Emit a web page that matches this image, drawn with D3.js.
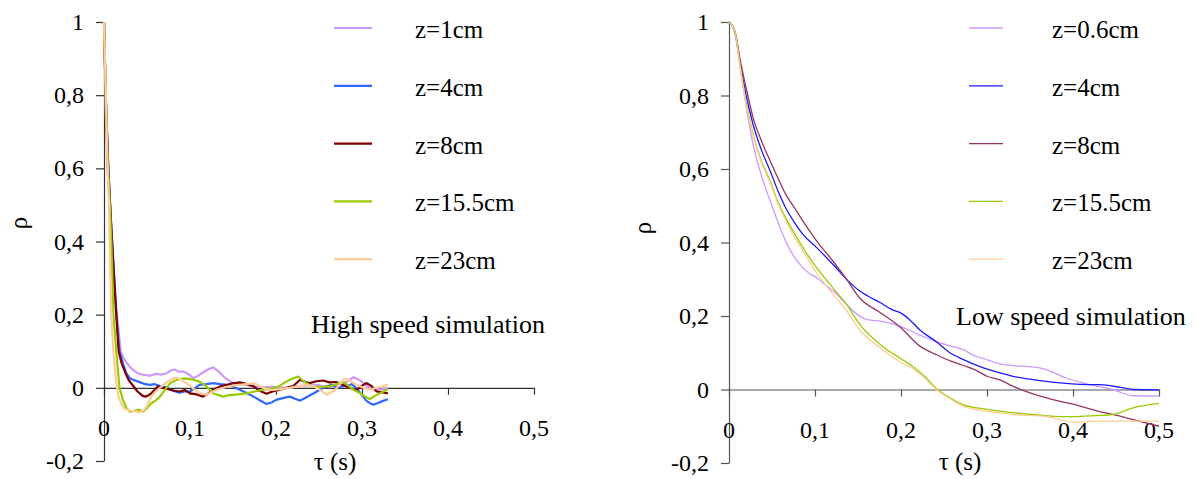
<!DOCTYPE html>
<html>
<head>
<meta charset="utf-8">
<title>Correlation chart</title>
<script src="https://d3js.org/d3.v7.min.js"></script>
</head>
<body style="margin:0">
<script>
// ---- data ----
var xTicks = [0, 0.1, 0.2, 0.3, 0.4, 0.5];
var yTicks = [-0.2, 0, 0.2, 0.4, 0.6, 0.8, 1];

var highLabels = ["z=1cm", "z=4cm", "z=8cm", "z=15.5cm", "z=23cm"];
var lowLabels = ["z=0.6cm", "z=4cm", "z=8cm", "z=15.5cm", "z=23cm"];

// high speed simulation, [tau, rho]
var highZ1 = [[0,1],[0.002,0.76],[0.004,0.6],[0.007,0.47],[0.01,0.36],[0.013,0.25],[0.015,0.2],[0.0195,0.1],[0.023,0.08],[0.026,0.07],[0.031,0.055],[0.036,0.045],[0.039,0.04],[0.045,0.036],[0.053,0.033],[0.061,0.038],[0.067,0.036],[0.073,0.04],[0.078,0.048],[0.082,0.05],[0.087,0.044],[0.092,0.045],[0.098,0.038],[0.104,0.026],[0.11,0.034],[0.115,0.042],[0.121,0.05],[0.127,0.056],[0.133,0.045],[0.139,0.031],[0.145,0.02],[0.15,0.013],[0.158,0.01],[0.166,0.008],[0.175,0.004],[0.185,0.002],[0.2,0.002],[0.212,0],[0.224,0.004],[0.235,0.006],[0.247,0.008],[0.255,0.004],[0.263,0.002],[0.27,0.006],[0.278,0.008],[0.284,0.02],[0.29,0.029],[0.298,0.02],[0.304,0.008],[0.309,-0.001],[0.315,-0.004],[0.321,-0.005],[0.326,-0.003],[0.33,-0.001]];
var highZ4 = [[0,1],[0.002,0.8],[0.005,0.6],[0.008,0.46],[0.011,0.34],[0.0143,0.2],[0.018,0.1],[0.022,0.067],[0.026,0.04],[0.03,0.026],[0.034,0.022],[0.042,0.015],[0.048,0.01],[0.053,0.008],[0.059,0.01],[0.065,0.005],[0.071,0.003],[0.077,-0.005],[0.083,-0.01],[0.088,-0.013],[0.094,-0.01],[0.1,-0.01],[0.105,-0.002],[0.111,0.008],[0.119,0.01],[0.127,0.013],[0.135,0.01],[0.143,0.008],[0.15,0.003],[0.158,-0.005],[0.166,-0.014],[0.174,-0.024],[0.181,-0.034],[0.189,-0.044],[0.195,-0.04],[0.2,-0.033],[0.208,-0.028],[0.216,-0.024],[0.222,-0.03],[0.228,-0.035],[0.236,-0.025],[0.244,-0.015],[0.252,-0.004],[0.259,0.004],[0.265,0.008],[0.27,0.002],[0.276,0.003],[0.282,0.005],[0.288,0.01],[0.294,-0.002],[0.3,-0.02],[0.305,-0.035],[0.31,-0.043],[0.313,-0.046],[0.318,-0.042],[0.323,-0.037],[0.33,-0.031]];
var highZ8 = [[0,1],[0.002,0.8],[0.005,0.6],[0.008,0.46],[0.011,0.33],[0.0143,0.2],[0.017,0.1],[0.0205,0.067],[0.025,0.04],[0.029,0.02],[0.034,0.005],[0.039,-0.01],[0.045,-0.022],[0.048,-0.024],[0.052,-0.02],[0.055,-0.015],[0.059,-0.005],[0.063,0.004],[0.069,0],[0.077,-0.005],[0.082,-0.008],[0.088,-0.01],[0.094,-0.006],[0.1,-0.015],[0.108,-0.018],[0.115,-0.024],[0.121,-0.016],[0.127,-0.005],[0.135,0.004],[0.143,0.008],[0.15,0.012],[0.158,0.015],[0.166,0.01],[0.174,0.004],[0.181,-0.008],[0.189,-0.016],[0.196,-0.01],[0.204,-0.005],[0.212,0],[0.22,0.005],[0.228,0.022],[0.234,0.016],[0.239,0.013],[0.247,0.018],[0.255,0.02],[0.262,0.015],[0.27,0.016],[0.276,0.01],[0.282,0.004],[0.288,-0.002],[0.294,-0.006],[0.3,0.006],[0.305,0.013],[0.311,0.005],[0.317,-0.01],[0.323,-0.012],[0.33,-0.015]];
var highZ15 = [[0,1],[0.002,0.8],[0.004,0.62],[0.0066,0.51],[0.0085,0.4],[0.011,0.2],[0.0143,0.1],[0.018,0],[0.022,-0.033],[0.026,-0.055],[0.03,-0.065],[0.035,-0.063],[0.04,-0.06],[0.046,-0.065],[0.05,-0.055],[0.055,-0.042],[0.06,-0.035],[0.065,-0.024],[0.071,-0.005],[0.077,0.013],[0.083,0.02],[0.088,0.024],[0.094,0.026],[0.1,0.024],[0.104,0.022],[0.11,0.018],[0.117,0.008],[0.122,-0.003],[0.127,-0.015],[0.133,-0.02],[0.139,-0.024],[0.145,-0.02],[0.15,-0.019],[0.158,-0.017],[0.166,-0.015],[0.175,-0.01],[0.185,-0.005],[0.193,-0.003],[0.2,0],[0.206,0.008],[0.212,0.017],[0.219,0.025],[0.226,0.031],[0.231,0.02],[0.236,0.012],[0.242,0.004],[0.247,0.002],[0.255,0.003],[0.263,0.004],[0.27,0.01],[0.278,0.017],[0.284,0.006],[0.29,-0.005],[0.298,-0.015],[0.304,-0.024],[0.309,-0.031],[0.315,-0.022],[0.321,-0.015],[0.326,-0.008],[0.33,-0.004]];
var highZ23 = [[0,1],[0.002,0.82],[0.004,0.62],[0.0058,0.51],[0.0065,0.4],[0.0085,0.2],[0.011,0.1],[0.0143,0.01],[0.017,-0.025],[0.0205,-0.045],[0.024,-0.058],[0.03,-0.062],[0.036,-0.064],[0.042,-0.067],[0.046,-0.062],[0.05,-0.05],[0.055,-0.024],[0.06,-0.01],[0.065,0],[0.071,0.012],[0.077,0.022],[0.084,0.028],[0.09,0.022],[0.096,0.013],[0.102,0.002],[0.108,-0.01],[0.114,-0.016],[0.119,-0.019],[0.125,-0.012],[0.131,-0.005],[0.137,-0.001],[0.143,0.003],[0.15,0.006],[0.158,0.008],[0.166,0.01],[0.174,0.013],[0.181,0.005],[0.189,-0.004],[0.195,-0.006],[0.2,-0.005],[0.208,-0.002],[0.216,0],[0.226,0.004],[0.236,0.008],[0.244,0.004],[0.251,-0.005],[0.259,-0.019],[0.264,-0.012],[0.269,-0.005],[0.275,0.012],[0.28,0.026],[0.287,0.018],[0.294,0.008],[0.302,0],[0.309,-0.005],[0.317,0],[0.325,0.005],[0.33,0.008]];

// low speed simulation, [tau, rho]
var lowZ06 = [[0,1],[0.004,0.99],[0.008,0.955],[0.0128,0.88],[0.02,0.77],[0.028,0.667],[0.038,0.58],[0.048,0.512],[0.057,0.455],[0.066,0.403],[0.076,0.36],[0.086,0.331],[0.094,0.315],[0.102,0.304],[0.111,0.287],[0.121,0.268],[0.137,0.231],[0.152,0.199],[0.161,0.19],[0.176,0.186],[0.199,0.172],[0.222,0.148],[0.241,0.13],[0.258,0.118],[0.272,0.109],[0.285,0.092],[0.299,0.082],[0.315,0.07],[0.33,0.065],[0.349,0.062],[0.368,0.055],[0.391,0.032],[0.408,0.02],[0.422,0.012],[0.446,0],[0.47,-0.017],[0.5,-0.018]];
var lowZ4 = [[0,1],[0.004,0.99],[0.008,0.96],[0.0128,0.89],[0.02,0.8],[0.028,0.721],[0.038,0.65],[0.048,0.594],[0.057,0.54],[0.066,0.494],[0.076,0.455],[0.086,0.422],[0.102,0.386],[0.121,0.34],[0.137,0.299],[0.152,0.268],[0.161,0.255],[0.176,0.236],[0.189,0.218],[0.199,0.209],[0.21,0.19],[0.222,0.162],[0.241,0.13],[0.257,0.1],[0.272,0.082],[0.292,0.062],[0.315,0.045],[0.33,0.036],[0.362,0.024],[0.385,0.018],[0.408,0.014],[0.431,0.013],[0.455,0.006],[0.47,0],[0.5,-0.001]];
var lowZ8 = [[0,1],[0.004,0.99],[0.008,0.965],[0.0128,0.9],[0.02,0.82],[0.028,0.74],[0.038,0.675],[0.048,0.621],[0.057,0.575],[0.066,0.531],[0.076,0.495],[0.086,0.458],[0.102,0.404],[0.121,0.349],[0.137,0.299],[0.152,0.249],[0.176,0.209],[0.199,0.17],[0.222,0.118],[0.241,0.095],[0.258,0.077],[0.272,0.066],[0.285,0.055],[0.3,0.036],[0.315,0.026],[0.33,0.009],[0.345,-0.005],[0.368,-0.022],[0.385,-0.032],[0.408,-0.045],[0.431,-0.06],[0.446,-0.068],[0.47,-0.082],[0.5,-0.1]];
var lowZ15 = [[0,1],[0.004,0.99],[0.008,0.96],[0.0128,0.885],[0.02,0.78],[0.028,0.694],[0.038,0.62],[0.048,0.567],[0.057,0.51],[0.066,0.467],[0.076,0.425],[0.086,0.386],[0.102,0.331],[0.121,0.276],[0.137,0.231],[0.152,0.177],[0.176,0.122],[0.199,0.085],[0.214,0.062],[0.228,0.035],[0.241,0.003],[0.255,-0.02],[0.272,-0.041],[0.3,-0.054],[0.33,-0.063],[0.368,-0.071],[0.395,-0.074],[0.426,-0.071],[0.446,-0.068],[0.47,-0.05],[0.5,-0.038]];
var lowZ23 = [[0,1],[0.004,0.99],[0.008,0.96],[0.0128,0.88],[0.02,0.775],[0.028,0.69],[0.038,0.615],[0.048,0.562],[0.057,0.505],[0.066,0.46],[0.076,0.415],[0.086,0.377],[0.102,0.317],[0.121,0.259],[0.137,0.213],[0.152,0.162],[0.176,0.113],[0.199,0.075],[0.214,0.056],[0.228,0.03],[0.241,0],[0.255,-0.022],[0.272,-0.045],[0.3,-0.059],[0.33,-0.068],[0.368,-0.073],[0.4,-0.089],[0.43,-0.086],[0.5,-0.086]];

var highColors = ["#cc99ff", "#3366ff", "#800000", "#99cc00", "#ffcc99"];
var lowColors = ["#cc99ff", "#1a1aff", "#993366", "#99cc00", "#ffcc99"];

var FONT = "'Liberation Serif', 'Times New Roman', serif";
var K = 0.8; // text is set at size/K and drawn scaled by K
var width = 1196, height = 479;
var svg = d3.select("body").append("svg")
  .attr("width", width)
  .attr("height", height);

// comma decimals and a plain hyphen for the minus, as in the original
var fmt = function(d) { return String(+d.toFixed(1)).replace(".", ","); };

function label(txt, size, x, y, extra) {
  return svg.append("text")
    .attr("transform", "translate(" + x + "," + y + ")" + (extra || "") + " scale(" + K + ")")
    .style("font-family", FONT)
    .attr("font-size", size / K)
    .text(txt);
}

function drawPanel(p) {
  var x = d3.scaleLinear().domain([0, 0.5]).range([p.left, p.left + 430]);
  var y = d3.scaleLinear().domain([-0.2, 1]).range([p.bottom, 22]);

  var ya = svg.append("g")
    .attr("transform", "translate(" + p.left + ",0)")
    .call(d3.axisLeft(y).tickValues(yTicks).tickFormat("").tickSize(8).tickSizeOuter(0));
  var xa = svg.append("g")
    .attr("transform", "translate(0," + y(0) + ")")
    .call(d3.axisBottom(x).tickValues(xTicks).tickFormat("").tickSize(7).tickSizeOuter(0));
  [ya, xa].forEach(function(a) {
    a.selectAll(".domain, .tick line").attr("stroke", p.axisColor).attr("stroke-width", 1.2);
    a.selectAll("text").remove();
  });

  yTicks.forEach(function(v) {
    label(fmt(v), 24, p.left - 20, y(v) + 8).attr("text-anchor", "end");
  });
  xTicks.forEach(function(v) {
    label(fmt(v), 24, x(v), y(0) + 48).attr("text-anchor", "middle");
  });

  var line = d3.line()
    .x(function(d) { return x(d[0]); })
    .y(function(d) { return y(d[1]); })
    .curve(p.curve);

  p.series.forEach(function(s, i) {
    svg.append("path")
      .datum(s)
      .attr("fill", "none")
      .attr("stroke", p.colors[i])
      .attr("stroke-width", p.lineWidth)
      .attr("stroke-linejoin", "round")
      .attr("d", line);
  });

  // legend
  p.labels.forEach(function(l, i) {
    var ly = 28 + i * 57.8;
    svg.append("line")
      .attr("x1", p.legX).attr("x2", p.legX + p.legLen)
      .attr("y1", ly).attr("y2", ly)
      .attr("stroke", p.colors[i])
      .attr("stroke-width", p.lineWidth);
    label(l, 25, p.legTextX, ly + 10);
  });

  label(p.title, 26, p.titleX, p.titleY);
  label("τ (s)", 25, p.left + 231, 470).attr("text-anchor", "middle");
  label("ρ", 25, p.rhoX, p.rhoY, " rotate(-90)")
    .attr("text-anchor", "middle")
    .attr("dy", "0.3em");
}

drawPanel({
  left: 104, bottom: 461, axisColor: "#333",
  series: [highZ1, highZ4, highZ8, highZ15, highZ23],
  colors: highColors, labels: highLabels,
  lineWidth: 2.2, curve: d3.curveLinear,
  legX: 334, legLen: 38, legTextX: 415,
  title: "High speed simulation", titleX: 311, titleY: 333,
  rhoX: 19, rhoY: 223
});

drawPanel({
  left: 729, bottom: 463, axisColor: "#555",
  series: [lowZ06, lowZ4, lowZ8, lowZ15, lowZ23],
  colors: lowColors, labels: lowLabels,
  lineWidth: 1.3, curve: d3.curveMonotoneX,
  legX: 969, legLen: 34, legTextX: 1052,
  title: "Low speed simulation", titleX: 956, titleY: 325,
  rhoX: 643, rhoY: 228
});
</script>
</body>
</html>
